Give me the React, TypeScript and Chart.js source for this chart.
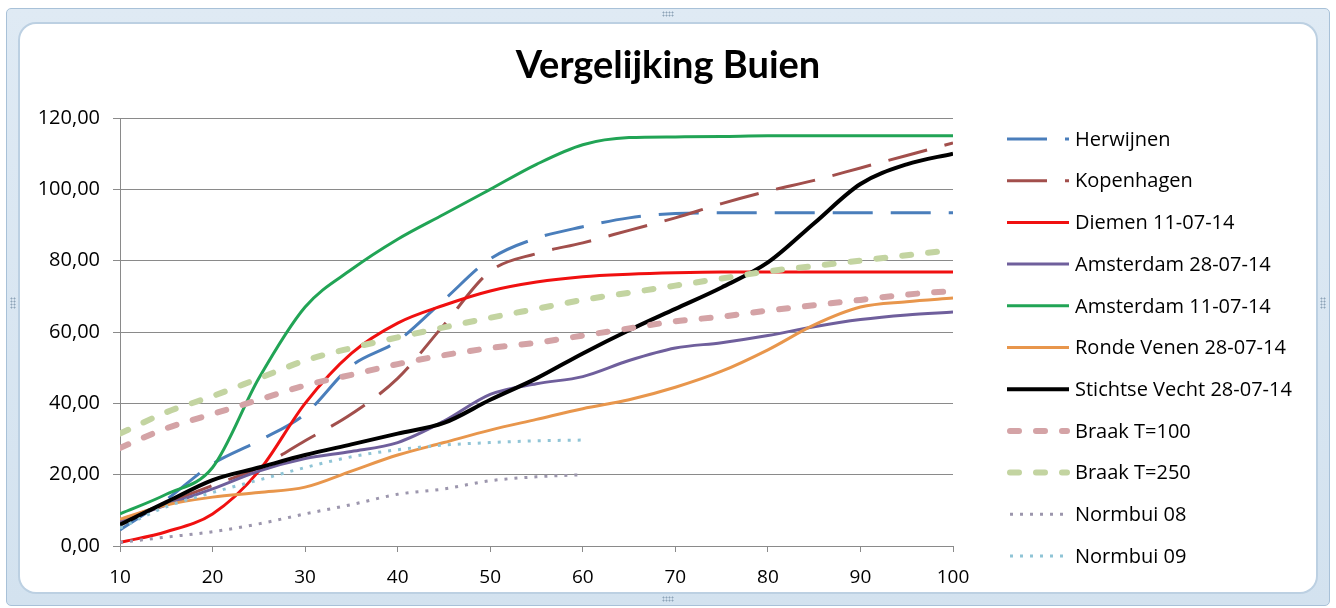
import React, { useEffect, useRef } from "react";
import { Chart, registerables } from "chart.js";

Chart.register(...registerables);

// Duur (x) waarden
const xFull = [10, 15, 20, 25, 30, 35, 40, 45, 50, 55, 60, 65, 70, 75, 80, 85, 90, 95, 100];
const xNorm = [10, 15, 20, 25, 30, 35, 40, 45, 50, 55, 60];

// Neerslagsommen per bui
const herwijnen = [4.5, 13, 23, 29.5, 37, 50.5, 57.5, 69, 80.5, 86.3, 89.5, 92, 93.2, 93.4, 93.4, 93.4, 93.4, 93.4, 93.4];
const kopenhagen = [7, 12, 17, 22, 29.5, 37, 47, 62, 77, 82, 85, 88.5, 92, 96, 99.5, 102.5, 106, 109.5, 113];
const diemen = [1, 4, 9, 21, 40, 54, 62.5, 67.5, 71.5, 74, 75.5, 76.2, 76.6, 76.8, 76.8, 76.8, 76.8, 76.8, 76.8];
const amsterdam2807 = [7, 11.5, 16, 21, 24.5, 26.5, 29, 35, 42.5, 45.5, 47.5, 52, 55.5, 57, 59, 61.5, 63.5, 64.8, 65.6];
const amsterdam1107 = [9, 14.5, 22, 47, 67, 77.5, 86, 93, 100, 107, 112.5, 114.5, 114.7, 114.8, 115, 115, 115, 115, 115];
const rondeVenen = [7.5, 11.5, 13.7, 15, 16.5, 21, 25.5, 29, 32.5, 35.5, 38.5, 41, 44.5, 49, 55, 62, 67, 68.5, 69.5];
const stichtseVecht = [6, 12.3, 18.5, 22, 25.5, 28.5, 31.5, 34.5, 41, 47, 54, 60.5, 66.5, 72.5, 79.5, 90.5, 101.5, 107, 110];
const braak100 = [27.5, 33, 37, 41, 45, 48, 51, 53.5, 55.5, 57, 59, 61, 63, 64.3, 66, 67.5, 69, 70.5, 71.5];
const braak250 = [31.5, 37.5, 42, 47, 52, 55.5, 58.5, 61.3, 64, 66.5, 69, 71, 73, 75, 77, 78.5, 80, 81.5, 83];
const normbui08 = [1, 2.5, 4, 6.2, 9, 11.6, 14.5, 16, 18.3, 19.4, 20];
const normbui09 = [5, 11, 15, 18.5, 22, 25, 27, 28.3, 29, 29.5, 29.7];

const yTicks = [0, 20, 40, 60, 80, 100, 120];

const TITLE = "Vergelijking Buien";

type Series = {
  label: string;
  xs: number[];
  ys: number[];
  color: string;
  width: number;
  dash: number[];
  cap: CanvasLineCap;
};

const DASH_LONG = [40, 18];
const DASH_SHORT = [9, 17];
const DOTS = [3, 7];

const series: Series[] = [
  { label: "Herwijnen", xs: xFull, ys: herwijnen, color: "#4a7ebb", width: 3, dash: DASH_LONG, cap: "butt" },
  { label: "Kopenhagen", xs: xFull, ys: kopenhagen, color: "#a24f4c", width: 3, dash: DASH_LONG, cap: "butt" },
  { label: "Diemen 11-07-14", xs: xFull, ys: diemen, color: "#f01010", width: 3, dash: [], cap: "butt" },
  { label: "Amsterdam 28-07-14", xs: xFull, ys: amsterdam2807, color: "#6f5f9c", width: 3, dash: [], cap: "butt" },
  { label: "Amsterdam 11-07-14", xs: xFull, ys: amsterdam1107, color: "#21a455", width: 3, dash: [], cap: "butt" },
  { label: "Ronde Venen 28-07-14", xs: xFull, ys: rondeVenen, color: "#e8964c", width: 3, dash: [], cap: "butt" },
  { label: "Stichtse Vecht 28-07-14", xs: xFull, ys: stichtseVecht, color: "#000000", width: 4, dash: [], cap: "butt" },
  { label: "Braak T=100", xs: xFull, ys: braak100, color: "#d4a3a6", width: 6, dash: DASH_SHORT, cap: "round" },
  { label: "Braak T=250", xs: xFull, ys: braak250, color: "#c3d4a1", width: 6, dash: DASH_SHORT, cap: "round" },
  { label: "Normbui 08", xs: xNorm, ys: normbui08, color: "#9c96ad", width: 3, dash: DOTS, cap: "butt" },
  { label: "Normbui 09", xs: xNorm, ys: normbui09, color: "#8fc4d6", width: 3, dash: DOTS, cap: "butt" },
];

const FONT = "'Open Sans', Lato, sans-serif";
const TITLE_FONT = "Lato, 'Open Sans', sans-serif";
const CANVAS_W = 1296;
const CANVAS_H = 568;
const PLOT_RIGHT = 933;
const PLOT_TOP = 94;

// Title centred over the whole card, plus the legend beside the plot
const sideDecor = {
  id: "sideDecor",
  afterDraw(chart: Chart) {
    const ctx = chart.ctx;
    ctx.save();
    ctx.fillStyle = "#000";
    ctx.font = `bold 38px ${TITLE_FONT}`;
    ctx.textAlign = "center";
    ctx.textBaseline = "middle";
    ctx.fillText(TITLE, CANVAS_W / 2, 42);

    const x0 = 987;
    const textX = 1055;
    const top = 115;
    const step = 41.7;
    series.forEach((s, i) => {
      const y = top + i * step;
      ctx.beginPath();
      ctx.strokeStyle = s.color;
      ctx.lineWidth = s.width;
      ctx.lineCap = s.cap;
      ctx.setLineDash(s.dash);
      if (s.cap === "round") {
        ctx.moveTo(x0 + 3, y);
        ctx.lineTo(x0 + 60, y);
      } else if (s.dash === DOTS) {
        ctx.moveTo(x0 + 3, y);
        ctx.lineTo(x0 + 63, y);
      } else {
        ctx.moveTo(x0, y);
        ctx.lineTo(x0 + 62, y);
      }
      ctx.stroke();
      ctx.setLineDash([]);
      ctx.fillStyle = "#000";
      ctx.font = `20px ${FONT}`;
      ctx.textBaseline = "middle";
      ctx.textAlign = "left";
      ctx.fillText(s.label, textX, y + 1);
    });
    ctx.restore();
  },
};

function RainChart() {
  const ref = useRef<HTMLCanvasElement>(null);

  useEffect(() => {
    if (!ref.current) return;
    const n = series.length;
    const chart = new Chart(ref.current, {
      type: "line",
      data: {
        datasets: series.map((s, i) => ({
          label: s.label,
          data: s.xs.map((x, k) => ({ x, y: s.ys[k] })),
          borderColor: s.color,
          backgroundColor: s.color,
          borderWidth: s.width,
          borderDash: s.dash,
          borderCapStyle: s.cap,
          pointRadius: 0,
          pointHoverRadius: 0,
          cubicInterpolationMode: "monotone" as const,
          fill: false,
          order: n - i,
        })),
      },
      options: {
        animation: false,
        responsive: false,
        devicePixelRatio: 1,
        layout: { padding: { left: 0, right: CANVAS_W - PLOT_RIGHT, top: PLOT_TOP, bottom: 0 } },
        plugins: {
          legend: { display: false },
          tooltip: { enabled: false },
          title: { display: false },
        },
        scales: {
          x: {
            type: "linear",
            min: 10,
            max: 100,
            afterFit: (scale: any) => {
              scale.height = 46;
            },
            ticks: {
              stepSize: 10,
              color: "#000",
              font: { family: FONT, size: 19 },
              padding: 14,
              maxRotation: 0,
            },
            grid: {
              display: true,
              drawOnChartArea: false,
              drawTicks: true,
              tickLength: 6,
              color: "#8a8a8a",
            },
            border: { display: true, color: "#8a8a8a", width: 1 },
          },
          y: {
            type: "linear",
            min: yTicks[0],
            max: yTicks[yTicks.length - 1],
            afterFit: (scale: any) => {
              scale.width = 100;
            },
            afterBuildTicks: (scale: any) => {
              scale.ticks = yTicks.map((v) => ({ value: v }));
            },
            ticks: {
              color: "#000",
              font: { family: FONT, size: 20 },
              padding: 13,
              callback: (v: any) => Number(v).toFixed(2).replace(".", ","),
            },
            grid: {
              color: "#8a8a8a",
              lineWidth: 1,
              drawTicks: true,
              tickLength: 7,
            },
            border: { display: true, color: "#8a8a8a", width: 1 },
          },
        },
      },
      plugins: [sideDecor],
    });
    return () => chart.destroy();
  }, []);

  return <canvas ref={ref} width={CANVAS_W} height={CANVAS_H} style={{ display: "block" }} />;
}

function Handle({ left, top, w, h }: { left: number; top: number; w: number; h: number }) {
  return (
    <div
      style={{
        position: "absolute",
        left,
        top,
        width: w,
        height: h,
        backgroundImage: "radial-gradient(circle, #8da4b8 0.9px, transparent 1.1px)",
        backgroundSize: "3px 3px",
      }}
    />
  );
}

export default function App() {
  return (
    <div style={{ position: "fixed", left: 0, top: 0, width: 1336, height: 608, background: "#ffffff", overflow: "hidden" }}>
      <div
        style={{
          position: "absolute",
          left: 6,
          top: 8,
          width: 1322,
          height: 596,
          background: "linear-gradient(#dfeaf4, #d3e2ef)",
          border: "1px solid #a8c1d8",
          borderRadius: 5,
        }}
      />
      <Handle left={662} top={11} w={12} h={6} />
      <Handle left={662} top={596} w={12} h={6} />
      <Handle left={10} top={297} w={6} h={12} />
      <Handle left={1320} top={297} w={6} h={12} />
      <div
        style={{
          position: "absolute",
          left: 20,
          top: 24,
          width: CANVAS_W,
          height: CANVAS_H,
          background: "#fff",
          borderRadius: 16,
          boxShadow: "0 0 0 2px #bcd0e2",
          overflow: "hidden",
        }}
      >
        <RainChart />
      </div>
    </div>
  );
}
